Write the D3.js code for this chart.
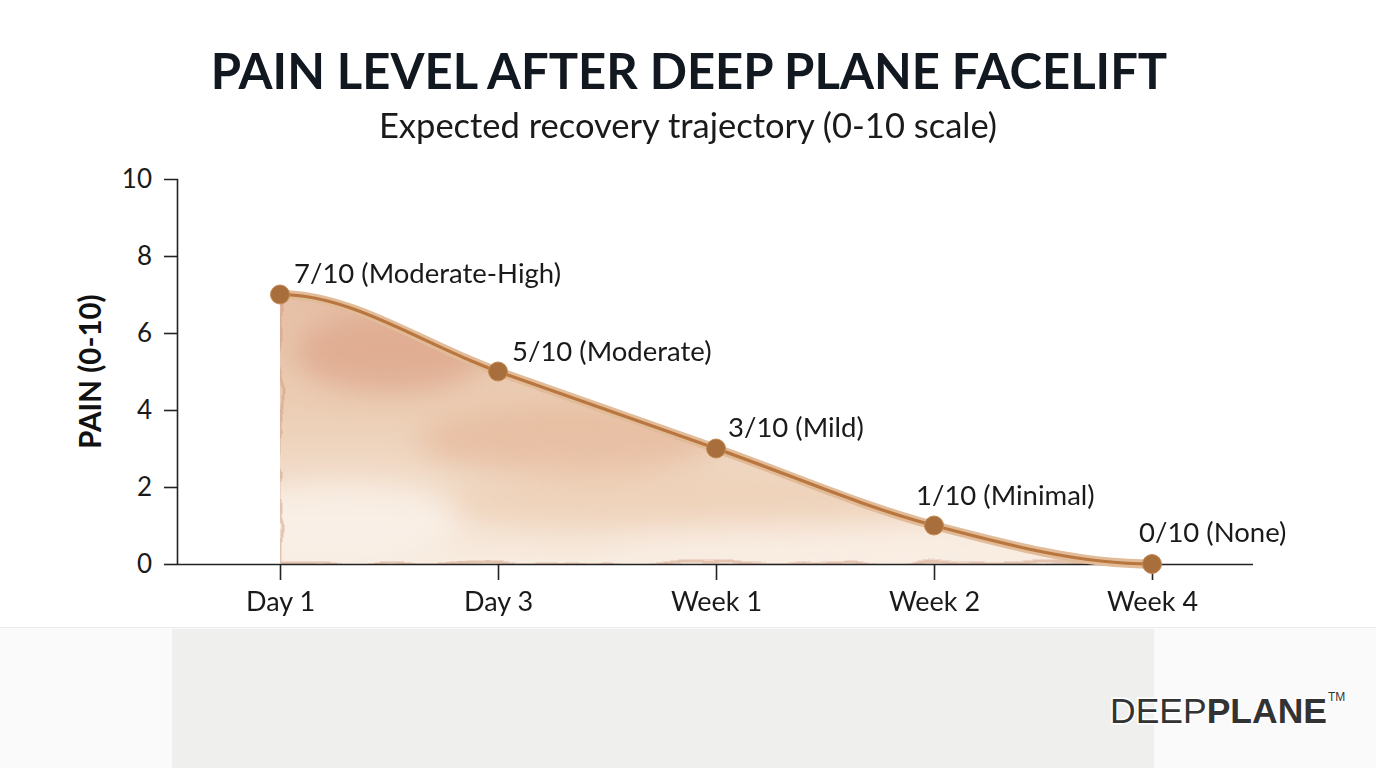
<!DOCTYPE html>
<html>
<head>
<meta charset="utf-8">
<script src="https://cdn.jsdelivr.net/npm/d3@7"></script>
<style>
  html, body { margin: 0; padding: 0; background: #fff; }
  svg { display: block; font-family: Lato, "Open Sans", sans-serif; }
</style>
</head>
<body>
<svg id="chart" width="1376" height="768"></svg>
<script>
// data
const stages = ["Day 1", "Day 3", "Week 1", "Week 2", "Week 4"];
const painValues = [7, 5, 3, 1, 0];
const painLabels = ["7/10 (Moderate-High)", "5/10 (Moderate)", "3/10 (Mild)", "1/10 (Minimal)", "0/10 (None)"];
const yTicks = [0, 2, 4, 6, 8, 10];

const W = 1376, H = 768;
const svg = d3.select("#chart");

// layout
const plot = {left: 177, right: 1253, top: 179, bottom: 564};

const x = d3.scalePoint().domain(stages).range([280, 1152]);
const y = d3.scaleLinear().domain([0, 10]).range([plot.bottom, plot.top]);

const rows = stages.map((s, i) => ({stage: s, value: painValues[i], label: painLabels[i]}));

// cubic hermite through the points, flat at both ends (brush-stroke look)
function flatEndCurve(context) {
  let pts = [];
  return {
    areaStart() {}, areaEnd() {},
    lineStart() { pts = []; },
    point(px, py) { pts.push([+px, +py]); },
    lineEnd() {
      const n = pts.length;
      if (!n) return;
      const m = pts.map((p, i) => {
        if (i === 0 || i === n - 1) return 0;
        return (pts[i + 1][1] - pts[i - 1][1]) / (pts[i + 1][0] - pts[i - 1][0]);
      });
      context.moveTo(pts[0][0], pts[0][1]);
      for (let i = 0; i < n - 1; i++) {
        const [x0, y0] = pts[i], [x1, y1] = pts[i + 1], h = (x1 - x0) / 3;
        context.bezierCurveTo(x0 + h, y0 + m[i] * h, x1 - h, y1 - m[i + 1] * h, x1, y1);
      }
    }
  };
}

const line = d3.line().x(d => x(d.stage)).y(d => y(d.value)).curve(flatEndCurve);
const areaPath = line(rows) +
  `L${x(stages[stages.length - 1])},${y(0)}L${x(stages[0])},${y(0)}Z`;

// defs: gradient + watercolor texture
const defs = svg.append("defs");
const grad = defs.append("linearGradient").attr("id", "washGrad")
  .attr("x1", 0).attr("x2", 0).attr("y1", 0).attr("y2", 1);
grad.append("stop").attr("offset", "0%").attr("stop-color", "#e6bfa6");
grad.append("stop").attr("offset", "45%").attr("stop-color", "#eccfb6");
grad.append("stop").attr("offset", "100%").attr("stop-color", "#f8ece0");

const filt = defs.append("filter").attr("id", "wash").attr("x", "-5%").attr("y", "-5%").attr("width", "110%").attr("height", "110%");
filt.append("feTurbulence").attr("type", "fractalNoise").attr("baseFrequency", "0.012 0.03").attr("numOctaves", 3).attr("seed", 4).attr("result", "noise");
filt.append("feDisplacementMap").attr("in", "SourceGraphic").attr("in2", "noise").attr("scale", 14)
  .attr("xChannelSelector", "R").attr("yChannelSelector", "G");

const blur = defs.append("filter").attr("id", "soft").attr("x", "-30%").attr("y", "-30%").attr("width", "160%").attr("height", "160%");
blur.append("feGaussianBlur").attr("stdDeviation", 14);

// bottom band
svg.append("rect").attr("x", 0).attr("y", 627).attr("width", W).attr("height", H - 627).attr("fill", "#fafafa");
svg.append("line").attr("x1", 0).attr("x2", W).attr("y1", 627.5).attr("y2", 627.5).attr("stroke", "#ececec");
svg.append("rect").attr("x", 172).attr("y", 629).attr("width", 982).attr("height", H - 629).attr("fill", "#efefee");

// area
defs.append("clipPath").attr("id", "areaClip").append("path").attr("d", areaPath);

const wash = svg.append("g").attr("clip-path", "url(#areaClip)");
wash.append("path").attr("d", areaPath).attr("fill", "url(#washGrad)");
// darker pigment pools inside the wash
const pools = [
  {cx: x("Day 1") + 110, cy: y(5.5), rx: 95, ry: 40, c: "#d9997e", o: 0.55},
  {cx: x("Day 3") + 70, cy: y(3.2), rx: 150, ry: 34, c: "#dfa988", o: 0.45},
  {cx: x("Week 1") - 20, cy: y(1.6), rx: 260, ry: 30, c: "#ecc7a8", o: 0.5},
  {cx: x("Day 1") + 60, cy: y(1.1), rx: 120, ry: 40, c: "#fbf3ec", o: 0.7},
  {cx: x("Week 1") + 150, cy: y(0.5), rx: 260, ry: 20, c: "#fbf2ea", o: 0.6}
];
wash.append("g").attr("filter", "url(#soft)")
  .selectAll("ellipse").data(pools).join("ellipse")
  .attr("cx", d => d.cx).attr("cy", d => d.cy).attr("rx", d => d.rx).attr("ry", d => d.ry)
  .attr("fill", d => d.c).attr("opacity", d => d.o);
wash.append("path").attr("d", areaPath).attr("fill", "none")
  .attr("stroke", "#cf9a7c").attr("stroke-width", 3).attr("opacity", 0.5).attr("filter", "url(#wash)");

// axes
const yAxis = d3.axisLeft(y).tickValues(yTicks).tickSize(13).tickPadding(12);
const gy = svg.append("g").attr("transform", `translate(${plot.left},0)`).call(yAxis);
gy.select(".domain").attr("d", `M-13,${plot.top}.5H0.5V${plot.bottom}`).attr("stroke", "#222").attr("stroke-width", 1.6);
gy.selectAll(".tick line").attr("stroke", "#222").attr("stroke-width", 1.6);
gy.selectAll(".tick text").attr("fill", "#1a1a1a").style("font-size", "26px").style("font-family", "Lato, sans-serif");
gy.selectAll(".tick").filter(d => d === 10).select("line").remove();

const xAxis = d3.axisBottom(x).tickSize(16).tickPadding(12);
const gx = svg.append("g").attr("transform", `translate(0,${plot.bottom})`).call(xAxis);
gx.select(".domain").attr("d", `M${plot.left},0.5H${plot.right}`).attr("stroke", "#222").attr("stroke-width", 1.6);
gx.selectAll(".tick line").attr("stroke", "#222").attr("stroke-width", 1.6);
gx.selectAll(".tick text").attr("fill", "#1a1a1a").style("font-size", "27px").style("font-family", "Lato, sans-serif");

// line
svg.append("path").attr("d", line(rows)).attr("fill", "none")
  .attr("stroke", "#e2bb98").attr("stroke-width", 9).attr("stroke-linecap", "round");
svg.append("path").attr("d", line(rows)).attr("fill", "none")
  .attr("stroke", "#b9773f").attr("stroke-width", 3.2).attr("stroke-linecap", "round");

// points
svg.append("g").selectAll("circle").data(rows).join("circle")
  .attr("cx", d => x(d.stage)).attr("cy", d => y(d.value)).attr("r", 9.5)
  .attr("fill", "#a86f3c").attr("stroke", "#c48a55").attr("stroke-width", 1);

// point labels
const labelShift = [[14, -21], [14, -20], [12, -21], [-18, -30], [-13, -32]];
svg.append("g").selectAll("text").data(rows).join("text")
  .attr("x", (d, i) => x(d.stage) + labelShift[i][0])
  .attr("y", (d, i) => y(d.value) + labelShift[i][1])
  .attr("dy", "0.35em")
  .attr("fill", "#1a1a1a").style("font-size", "27.5px")
  .text(d => d.label);

// titles
svg.append("text").attr("x", 689).attr("y", 89).attr("text-anchor", "middle")
  .attr("fill", "#111820").style("font-size", "49px").style("font-weight", 700)
  .text("PAIN LEVEL AFTER DEEP PLANE FACELIFT");
svg.append("text").attr("x", 688).attr("y", 138).attr("text-anchor", "middle")
  .attr("fill", "#1a1a1a").style("font-size", "34.5px")
  .text("Expected recovery trajectory (0-10 scale)");
svg.append("text").attr("transform", `translate(101,${(plot.top + plot.bottom) / 2}) rotate(-90)`)
  .attr("text-anchor", "middle").attr("fill", "#111").style("font-size", "29.5px").style("font-weight", 700)
  .text("PAIN (0-10)");

// logo
const logo = svg.append("text").attr("x", 1110).attr("y", 723)
  .attr("fill", "#333").style("font-size", "35.5px").style("font-family", "'Liberation Sans', Arial, sans-serif")
  .attr("stroke", "#fff").attr("stroke-width", 3).attr("paint-order", "stroke");
logo.append("tspan").text("DEEP");
logo.append("tspan").style("font-weight", 700).text("PLANE");
logo.append("tspan").attr("dx", 1).attr("dy", -22).style("font-size", "12px").text("TM");
</script>
</body>
</html>
